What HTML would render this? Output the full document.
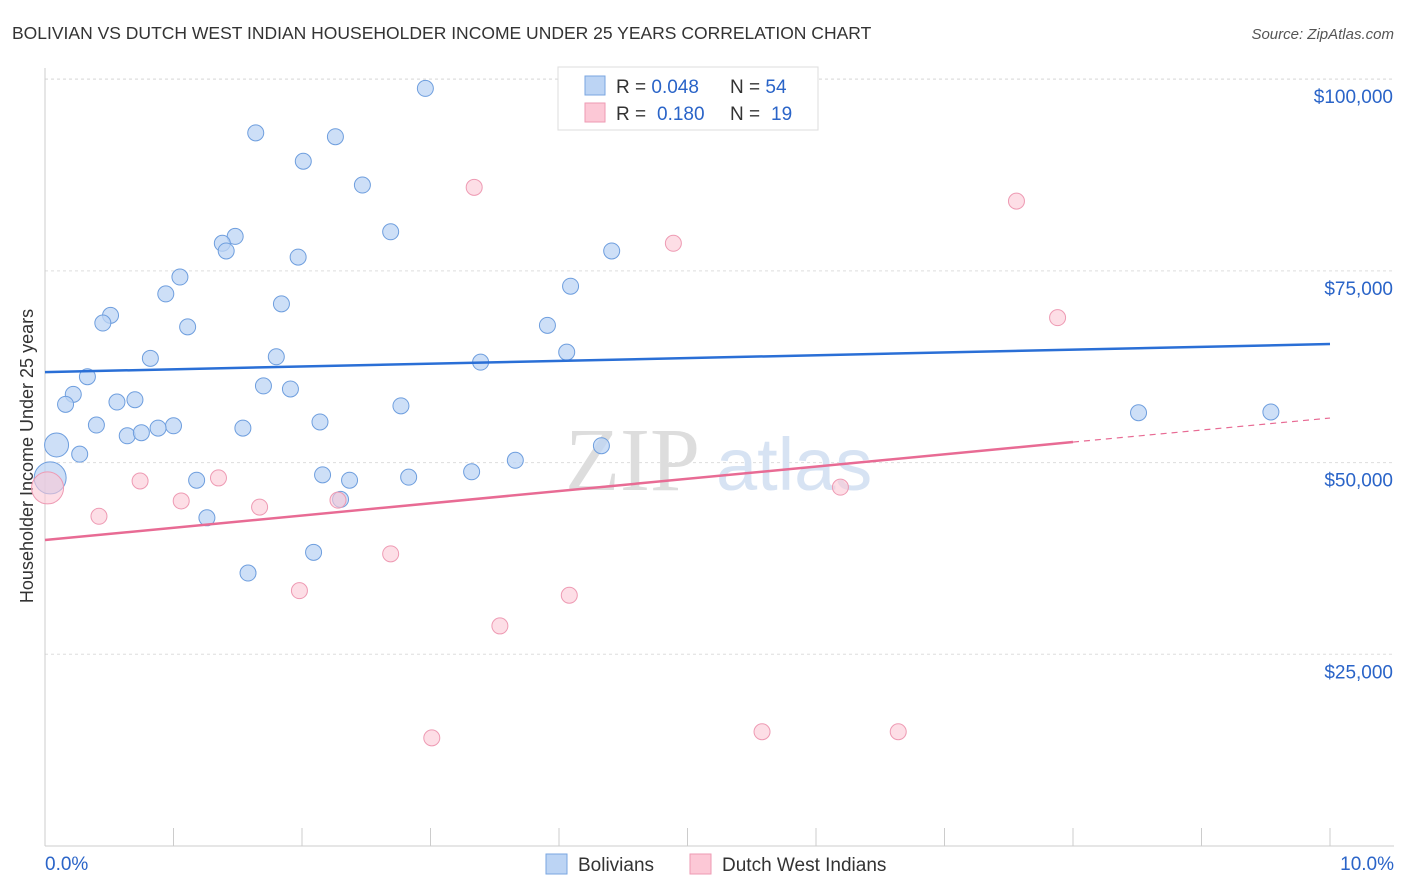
<!DOCTYPE html>
<html><head><meta charset="utf-8"><style>
body{margin:0;background:#fff;font-family:"Liberation Sans",sans-serif;}
svg{display:block}
</style></head><body>
<svg id="chart" width="1406" height="892">
<text x="12" y="39" font-size="17.5" fill="#333">BOLIVIAN VS DUTCH WEST INDIAN HOUSEHOLDER INCOME UNDER 25 YEARS CORRELATION CHART</text>
<text x="1394" y="39" font-size="15" fill="#555" font-style="italic" text-anchor="end">Source: ZipAtlas.com</text>
<g id="grid"></g>
<text x="700" y="490" font-size="90" fill="#ddd" font-family="Liberation Serif" text-anchor="end">ZIP</text>
<text x="716" y="490" font-size="74" fill="#d7e3f3" text-anchor="start">atlas</text>
<text transform="translate(33,456) rotate(-90)" font-size="18" fill="#333" text-anchor="middle">Householder Income Under 25 years</text>
<g id="marks"></g>
<g>
<rect x="558" y="67" width="260" height="63" fill="#fff" stroke="#ddd"/>
<rect x="585" y="76" width="20" height="19" fill="#bcd4f4" stroke="#7aa6e0"/>
<rect x="585" y="103" width="20" height="19" fill="#fcc8d6" stroke="#ee9ab3"/>
<text x="616" y="93" font-size="19" fill="#333">R = <tspan fill="#2a64c8">0.048</tspan><tspan x="730">N = </tspan><tspan fill="#2a64c8">54</tspan></text>
<text x="616" y="120" font-size="19" fill="#333">R = <tspan fill="#2a64c8" x="657">0.180</tspan><tspan x="730">N = </tspan><tspan fill="#2a64c8" x="771">19</tspan></text>
</g>
<g>
<rect x="546" y="854" width="21" height="20" fill="#bcd4f4" stroke="#7aa6e0"/>
<text x="578" y="871" font-size="19" fill="#333">Bolivians</text>
<rect x="690" y="854" width="21" height="20" fill="#fcc8d6" stroke="#ee9ab3"/>
<text x="722" y="871" font-size="19" fill="#333">Dutch West Indians</text>
</g>
<text x="45" y="870" font-size="19" fill="#2a64c8">0.0%</text>
<text x="1394" y="870" font-size="19" fill="#2a64c8" text-anchor="end">10.0%</text>
</svg>
<script>
const yTicks=[25000,50000,75000,100000];
const yTickLabels=["$25,000","$50,000","$75,000","$100,000"];
const blueX=[2.96,1.64,2.26,2.01,2.47,2.69,1.48,1.38,1.41,1.97,4.41,1.05,4.09,0.94,1.84,0.51,0.45,1.11,3.91,4.06,0.82,1.80,3.39,0.33,1.70,1.91,0.22,0.16,0.56,0.70,2.77,2.14,0.40,1.00,0.88,1.54,0.64,0.75,0.09,4.33,0.27,3.66,3.32,2.16,2.83,2.37,1.18,0.04,2.30,1.26,2.09,1.58,8.51,9.54];
const blueY=[98800,93000,92500,89300,86200,80100,79500,78600,77600,76800,77600,74200,73000,72000,70700,69200,68200,67700,67900,64400,63600,63800,63100,61200,60000,59600,58900,57600,57900,58200,57400,55300,54900,54800,54500,54500,53500,53900,52300,52200,51100,50300,48800,48400,48100,47700,47700,48000,45200,42800,38300,35600,56500,56600];
const blueSize=[1,1,1,1,1,1,1,1,1,1,1,1,1,1,1,1,1,1,1,1,1,1,1,1,1,1,1,1,1,1,1,1,1,1,1,1,1,1,1.5,1,1,1,1,1,1,1,1,2,1,1,1,1,1,1];
const pinkX=[3.34,7.56,4.89,7.88,0.74,1.35,1.06,0.42,1.67,2.28,6.19,2.69,1.98,4.08,3.54,3.01,5.58,6.64,0.02];
const pinkY=[85900,84100,78600,68900,47600,48000,45000,43000,44200,45100,46800,38100,33300,32700,28700,14100,14900,14900,46700];
const pinkSize=[1,1,1,1,1,1,1,1,1,1,1,1,1,1,1,1,1,1,2];
const blueTrendX=[0,10];
const blueTrendY=[61800,65460];
const pinkTrendX=[0,8,10];
const pinkTrendY=[39900,52680,55810];

const NS="http://www.w3.org/2000/svg";
const xs=v=>45+v*128.5;
const ys=v=>846-v*191.7/25000;
function mk(tag,attrs,parent){const e=document.createElementNS(NS,tag);for(const k in attrs)e.setAttribute(k,attrs[k]);parent.appendChild(e);return e;}
const gridG=document.getElementById('grid'),marksG=document.getElementById('marks');
yTicks.forEach((t,i)=>{
 const l=mk('line',{x1:45,x2:1394,y1:ys(t),y2:ys(t),stroke:'#ddd','stroke-dasharray':'3,3'},gridG);
 
 
 const tx=mk('text',{x:1393,y:ys(t)+24,'font-size':19,fill:'#2a64c8','text-anchor':'end'},gridG);
 tx.textContent=yTickLabels[i];
 
 
});
const topGrid=mk('line',{x1:45,x2:1394,y1:79,y2:79,stroke:'#ddd','stroke-dasharray':'3,3'},gridG);


const xa=mk('line',{x1:45,x2:1394,y1:846,y2:846,stroke:'#ccc'},gridG);


const ya=mk('line',{x1:45,x2:45,y1:68,y2:846,stroke:'#ccc'},gridG);


for(let i=0;i<=10;i++){
 const t=mk('line',{x1:xs(i),x2:xs(i),y1:828,y2:846,stroke:'#ccc'},gridG);
 
 
}
blueX.forEach((x,i)=>{
 const c=mk('circle',{cx:xs(x),cy:ys(blueY[i]),r:8*blueSize[i],fill:'#bcd4f4','fill-opacity':0.75,stroke:'#6e9ede','stroke-width':1},marksG);
 
 
});
pinkX.forEach((x,i)=>{
 const c=mk('circle',{cx:xs(x),cy:ys(pinkY[i]),r:8*pinkSize[i],fill:'#fcc8d6','fill-opacity':0.6,stroke:'#ee9ab3','stroke-width':1},marksG);
 
 
});
const bl=mk('line',{x1:xs(blueTrendX[0]),y1:ys(blueTrendY[0]),x2:xs(blueTrendX[1]),y2:ys(blueTrendY[1]),stroke:'#2a6fd6','stroke-width':2.5},marksG);


const pl=mk('line',{x1:xs(pinkTrendX[0]),y1:ys(pinkTrendY[0]),x2:xs(pinkTrendX[1]),y2:ys(pinkTrendY[1]),stroke:'#e86b94','stroke-width':2.5},marksG);


const pd=mk('line',{x1:xs(pinkTrendX[1]),y1:ys(pinkTrendY[1]),x2:xs(pinkTrendX[2]),y2:ys(pinkTrendY[2]),stroke:'#e86b94','stroke-width':1.2,'stroke-dasharray':'6,5'},marksG);


</script>
</body></html>
